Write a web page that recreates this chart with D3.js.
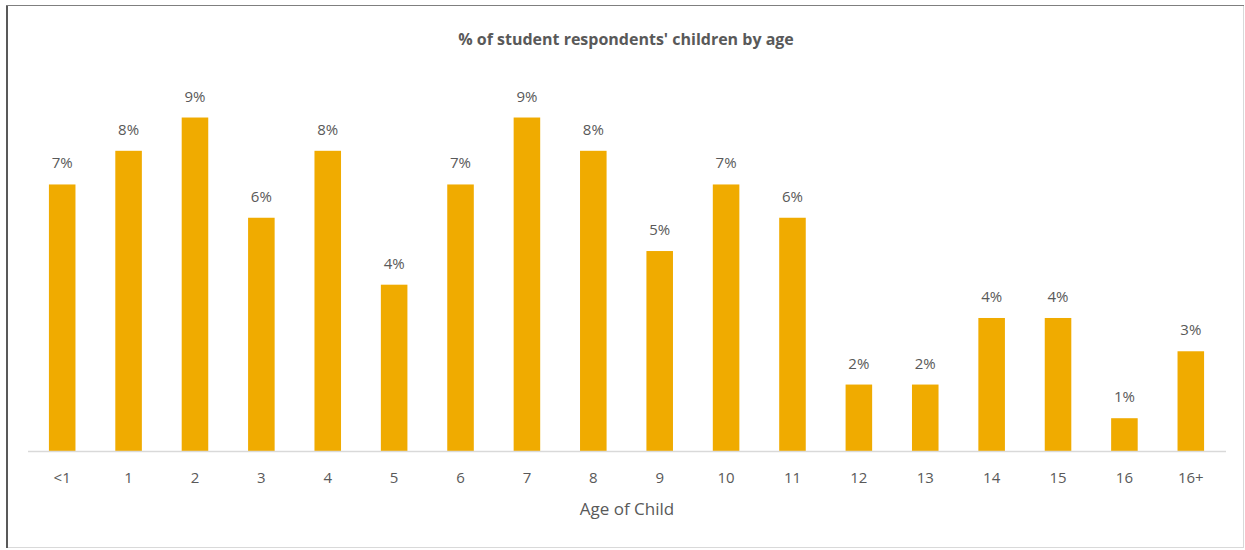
<!DOCTYPE html>
<html>
<head>
<meta charset="utf-8">
<script src="https://cdn.jsdelivr.net/npm/d3@7"></script>
<style>
  html, body { margin: 0; padding: 0; background: #fff; }
  svg { display: block; }
</style>
</head>
<body>
<svg id="chart" width="1245" height="550"></svg>
<script>
const categories = ["<1","1","2","3","4","5","6","7","8","9","10","11","12","13","14","15","16","16+"];
const percentValues = [7.14, 8.04, 8.93, 6.25, 8.04, 4.46, 7.14, 8.93, 8.04, 5.36, 7.14, 6.25, 1.79, 1.79, 3.57, 3.57, 0.89, 2.68];
const chartTitle = "% of student respondents' children by age";
const xAxisTitle = "Age of Child";

const svg = d3.select("#chart");
const font = "'Open Sans', 'Liberation Sans', sans-serif";
const textColor = "#595959";

// frame
svg.append("rect").attr("x", 7.5).attr("y", 5.5).attr("width", 1236).attr("height", 542)
  .attr("fill", "#fff").attr("stroke", "#d9d9d9").attr("stroke-width", 1);
svg.append("line").attr("x1", 7).attr("x2", 7).attr("y1", 5).attr("y2", 548)
  .attr("stroke", "#595959").attr("stroke-width", 2);
svg.append("line").attr("x1", 6).attr("x2", 1244).attr("y1", 5.5).attr("y2", 5.5)
  .attr("stroke", "#7f7f7f").attr("stroke-width", 1);

const baseY = 451.5;
const x = d3.scaleBand().domain(categories).range([29, 1224]).paddingInner(0.6).paddingOuter(0.3);
const y = d3.scaleLinear().domain([0, 10]).range([baseY, baseY - 374]);

svg.append("g").selectAll("rect").data(categories).join("rect")
  .attr("x", d => x(d))
  .attr("width", x.bandwidth())
  .attr("y", (d, i) => y(percentValues[i]))
  .attr("height", (d, i) => baseY - y(percentValues[i]))
  .attr("fill", "#F0AB00");

svg.append("g").selectAll("text").data(categories).join("text")
  .attr("x", d => x(d) + x.bandwidth() / 2)
  .attr("y", (d, i) => y(percentValues[i]) - 16)
  .attr("text-anchor", "middle")
  .attr("font-family", font).attr("font-size", 15).attr("fill", textColor)
  .text((d, i) => Math.round(percentValues[i]) + "%");

const xAxis = svg.append("g").attr("transform", `translate(0,${baseY})`)
  .call(d3.axisBottom(x).tickSize(0).tickPadding(20.5));
xAxis.select(".domain").remove();
xAxis.selectAll("text").attr("font-family", font).attr("font-size", 15).attr("fill", textColor);
svg.append("line").attr("x1", 28).attr("x2", 1226).attr("y1", baseY).attr("y2", baseY)
  .attr("stroke", "#d9d9d9").attr("stroke-width", 1.5);

svg.append("text").attr("x", 627).attr("y", 515).attr("text-anchor", "middle")
  .attr("font-family", font).attr("font-size", 17).attr("fill", textColor).text(xAxisTitle);

svg.append("text").attr("x", 626).attr("y", 45).attr("text-anchor", "middle")
  .attr("font-family", font).attr("font-size", 16).attr("font-weight", "bold").attr("fill", textColor)
  .text(chartTitle);
</script>
</body>
</html>
